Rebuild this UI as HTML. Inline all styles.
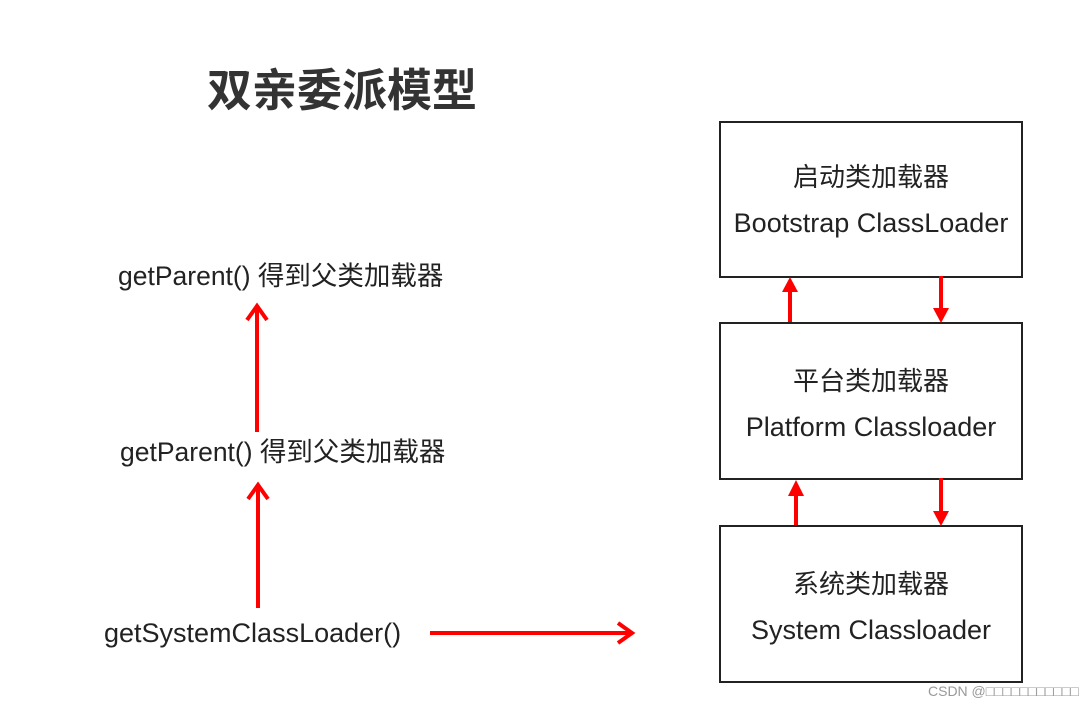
<!DOCTYPE html>
<html><head><meta charset="utf-8"><style>
body{margin:0;width:1091px;height:709px;background:#fff;position:relative;overflow:hidden;font-family:"Liberation Sans","Noto Sans CJK SC",sans-serif;color:#222}
.t{position:absolute;white-space:nowrap;line-height:1}
.box{position:absolute;left:719px;width:300px;border:2px solid #222;box-sizing:content-box}
.c{position:absolute;width:100%;text-align:center;line-height:1}
</style></head><body>
<div class="t" style="left:207px;top:64px;font-size:45px;font-weight:bold;color:#333;font-family:'Noto Sans CJK SC',sans-serif">双亲委派模型</div>
<div class="t" style="left:118px;top:263px;font-size:26.5px">getParent() 得到父类加载器</div>
<div class="t" style="left:120px;top:439px;font-size:26.5px">getParent() 得到父类加载器</div>
<div class="t" style="left:104px;top:620px;font-size:27px">getSystemClassLoader()</div>

<div class="box" style="top:121px;height:153px"><div class="c" style="top:41px;font-size:26px">启动类加载器</div><div class="c" style="top:87px;font-size:27px">Bootstrap ClassLoader</div></div>
<div class="box" style="top:322px;height:154px"><div class="c" style="top:44px;font-size:26px">平台类加载器</div><div class="c" style="top:90px;font-size:27px">Platform Classloader</div></div>
<div class="box" style="top:525px;height:154px"><div class="c" style="top:44px;font-size:26px">系统类加载器</div><div class="c" style="top:90px;font-size:27px">System Classloader</div></div>

<svg width="1091" height="709" style="position:absolute;left:0;top:0">
<g stroke="#f00" stroke-width="4" fill="none">
<line x1="257" y1="432" x2="257" y2="308"/><polyline points="247,320 257,306 267,320"/>
<line x1="258" y1="608" x2="258" y2="487"/><polyline points="248,499 258,485 268,499"/>
<line x1="430" y1="633" x2="630" y2="633"/><polyline points="618,623 632,633 618,643"/>
<line x1="790" y1="322" x2="790" y2="290"/>
<line x1="941" y1="276" x2="941" y2="310"/>
<line x1="796" y1="525" x2="796" y2="494"/>
<line x1="941" y1="478" x2="941" y2="513"/>
</g>
<g fill="#f00">
<polygon points="782,292 798,292 790,277"/>
<polygon points="933,308 949,308 941,323"/>
<polygon points="788,496 804,496 796,480"/>
<polygon points="933,511 949,511 941,526"/>
</g>
</svg>
<div class="t" style="left:928px;top:684px;font-size:14px;color:#999">CSDN @□□□□□□□□□□□</div>
</body></html>
